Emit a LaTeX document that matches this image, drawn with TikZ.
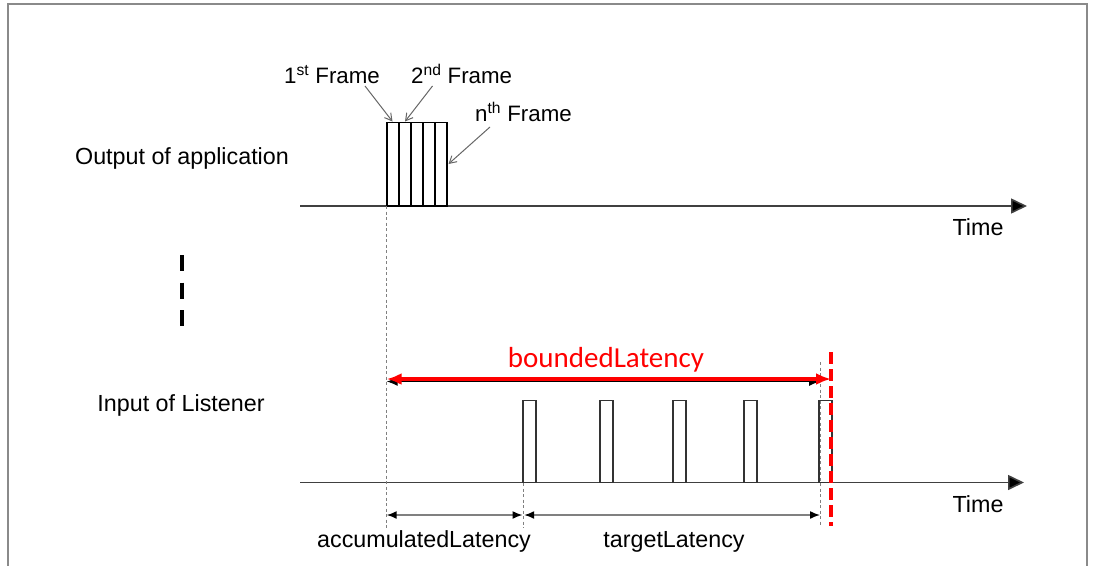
\documentclass[tikz,border=0pt]{standalone}
\usepackage{fontspec}
\setmainfont{Liberation Sans}
\newfontfamily\calibrifont{Carlito}
\usetikzlibrary{arrows.meta}
\definecolor{axisgray}{HTML}{404040}
\definecolor{guidegray}{HTML}{808080}
\definecolor{framegray}{HTML}{8A8A8A}
\definecolor{alertred}{HTML}{FF0000}
\begin{document}
\begin{tikzpicture}[x=1pt,y=-1pt,
  lbl/.style={font=\fontsize{23.3}{27}\selectfont, inner sep=0pt, anchor=base},
  framelbl/.style={font=\fontsize{22.3}{26}\selectfont, inner sep=0pt, anchor=base west},
  timeaxis/.style={draw=axisgray, line width=1.6pt, -{Triangle[length=16pt,width=15pt,fill=black]}},
  pointer/.style={draw=axisgray!80, line width=1pt, -{Straight Barb[length=7pt,width=8pt]}},
  blockline/.style={draw=black, line width=1.6pt},
  pulse/.style={draw=black!80, line width=1.8pt},
  guide/.style={draw=guidegray, line width=1pt, dash pattern=on 3pt off 2.5pt},
  dimline/.style={draw=guidegray, line width=1.5pt, {Latex[length=10pt,width=8pt,fill=black,color=black]}-{Latex[length=10pt,width=8pt,fill=black,color=black]}},
  boundline/.style={draw=alertred, line width=4pt, {Latex[length=15pt,width=12pt]}-{Latex[length=15pt,width=12pt]}},
  boundguide/.style={draw=alertred, line width=4pt, dash pattern=on 12pt off 5pt},
  gapmark/.style={draw=black, line width=4pt, dash pattern=on 16pt off 11.5pt}
]
\useasboundingbox (0,0) rectangle (1094,565);

% outer frame (its bottom edge lies below the page)
\draw[framegray, line width=2pt] (8,566) -- (8,4) -- (1087,4) -- (1087,566);

% time axes
\coordinate (topstart) at (300,206);
\coordinate (topend) at (1027,206);
\coordinate (botstart) at (300,482.5);
\coordinate (botend) at (1024,482.5);
\draw[timeaxis] (topstart) -- (topend);
\draw[timeaxis] (botstart) -- (botend);
\node[lbl] (toptime) at (978,235) {Time};
\node[lbl] (bottime) at (978,512) {Time};

% row labels
\node[lbl] (outlbl) at (182,164) {Output of application};
\node[lbl] (inlbl) at (181,411) {Input of Listener};

% gap between the two timelines
\coordinate (gaptop) at (182,255);
\coordinate (gapbot) at (182,326);
\draw[gapmark] (gaptop) -- (gapbot);

% burst of frames leaving the application
\foreach \i in {0,...,4}
  \draw[blockline] ({386.7+12*\i},122.5) rectangle ({386.7+12*(\i+1)},206);

\node[framelbl] (first) at (284,83) {1\textsuperscript{st} Frame};
\node[framelbl] (second) at (411,83) {2\textsuperscript{nd} Frame};
\node[framelbl] (nth) at (475,121) {n\textsuperscript{th} Frame};
\coordinate (firsttail) at (365,86);
\coordinate (firsttip) at (392.5,121.5);
\coordinate (secondtail) at (432.5,86);
\coordinate (secondtip) at (405,121.5);
\coordinate (nthtail) at (490,127);
\coordinate (nthtip) at (448.5,164);
\draw[pointer] (firsttail) -- (firsttip);
\draw[pointer] (secondtail) -- (secondtip);
\draw[pointer] (nthtail) -- (nthtip);

% frames arriving at the listener
\foreach \x in {522.7,600,672.7,744.3,819.3}
  \draw[pulse] (\x,400.5) rectangle ++(13,82);

% vertical guides
\coordinate (g1top) at (386.7,206);
\coordinate (g1bot) at (386.7,528);
\coordinate (g2top) at (523.3,483);
\coordinate (g2bot) at (523.3,528);
\coordinate (g3top) at (820,362);
\coordinate (g3bot) at (820,526);
\draw[guide] (g1top) -- (g1bot);
\draw[guide] (g2top) -- (g2bot);
\draw[guide] (g3top) -- (g3bot);

% latency dimensions
\coordinate (accl) at (386.7,515);
\coordinate (accr) at (522.5,515);
\coordinate (tgtl) at (524.2,515);
\coordinate (tgtr) at (820,515);
\draw[dimline] (accl) -- (accr);
\draw[dimline] (tgtl) -- (tgtr);
\node[lbl] (acclbl) at (424,547.5) {accumulatedLatency};
\node[lbl] (tgtlbl) at (674,547.5) {targetLatency};

% bounded latency
\coordinate (bndl) at (386.7,381.5);
\coordinate (bndr) at (820,381.5);
\draw[draw=black, line width=1pt, {Latex[length=11pt,width=9pt]}-{Latex[length=11pt,width=9pt]}] (bndl) -- (bndr);
\coordinate (redl) at (386.7,379);
\coordinate (redr) at (831,379);
\draw[boundline] (redl) -- (redr);
\coordinate (redtop) at (831,352);
\coordinate (redbot) at (831,526);
\draw[boundguide] (redtop) -- (redbot);
\node[font=\calibrifont\fontsize{29}{34}\selectfont, text=alertred, inner sep=0pt, anchor=base] (bndlbl) at (606,367) {boundedLatency};
\end{tikzpicture}
\end{document}
